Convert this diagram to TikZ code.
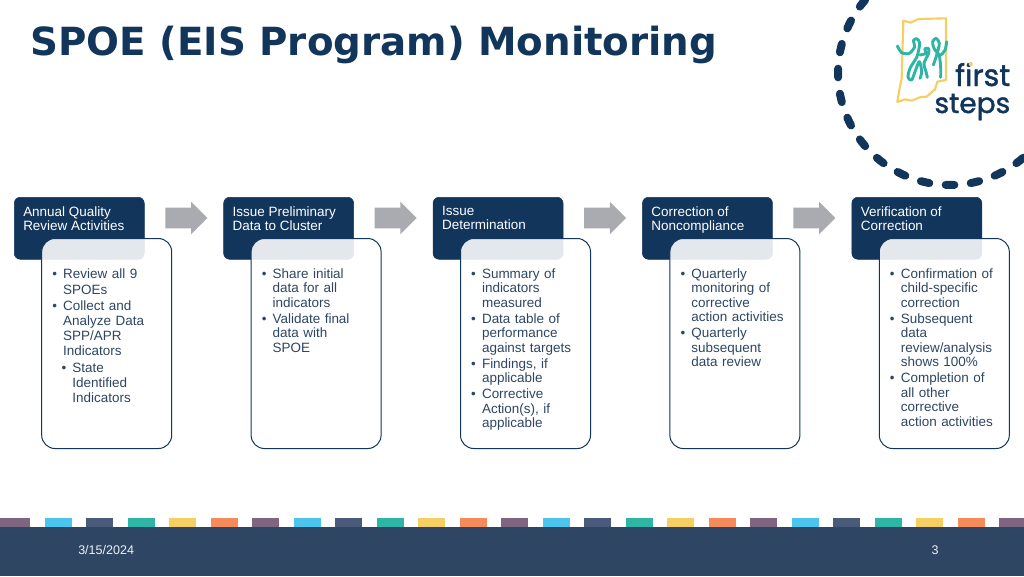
\documentclass[tikz,border=0pt]{standalone}
\usepackage{fontspec}
\usetikzlibrary{shapes.arrows}
\setmainfont{Liberation Sans}
\newfontfamily\titlefont{DejaVu Sans}
\newfontfamily\logofont[FakeBold=1.5]{Poppins}
\definecolor{navy}{HTML}{12355B}
\definecolor{slate}{HTML}{2E4663}
\definecolor{graybar}{HTML}{A9ABB0}
\definecolor{purplebar}{HTML}{7F6580}
\definecolor{bluebar}{HTML}{4CC4EE}
\definecolor{slatebar}{HTML}{4A5A7A}
\definecolor{tealbar}{HTML}{2FB5A5}
\definecolor{yellowbar}{HTML}{F5CF63}
\definecolor{orangebar}{HTML}{F58A5A}
% one bullet: indent of the text, then its lines
\newcommand{\bulitem}[2]{\par\leftskip=#1\relax\parskip=1.2pt\noindent\llap{\textbullet\hspace{4.6pt}}#2\par}
\tikzset{
  hdrbox/.style={draw=navy,fill=navy,rounded corners=4.5pt,minimum width=97.5pt,minimum height=46.5pt,inner sep=0pt,anchor=north west},
  hdrtext/.style={text=white,anchor=north west,inner sep=0pt,align=left,font=\fontsize{10.1}{10.5}\selectfont},
  bodybox/.style={draw=navy,line width=0.75pt,fill=white,fill opacity=0.89,rounded corners=10pt,minimum width=97.5pt,minimum height=157.5pt,inner sep=0pt,anchor=north west},
  bodytext/.style={text=slate,anchor=north west,inner sep=0pt,text width=96pt,align=left,font=\fontsize{10.1}{10.85}\selectfont},
  flowarrow/.style={single arrow,fill=graybar,inner sep=7.5pt,minimum height=31.5pt,minimum width=24pt,single arrow head extend=4.5pt,single arrow tip angle=90,anchor=west},
  logoline/.style={line width=2.2pt,line cap=round,line join=round},
  footertext/.style={text=white!92!slate,inner sep=0pt,font=\fontsize{9.4}{11}\selectfont}
}
\begin{document}
\begin{tikzpicture}[x=0.75pt,y=0.75pt]
    \useasboundingbox (0,0) rectangle (1024,-576);
    \clip (0,0) rectangle (1024,-576);
    \node [anchor=base west,inner sep=0pt,text=navy,font=\titlefont\bfseries\fontsize{29.07}{36}\selectfont] (title) at (30,-55.5) {SPOE (EIS Program) Monitoring};

    % dashed ring
    \foreach \k in {-3,...,10}
        \draw [navy,line width=6pt,line cap=round] ({950+112*cos(180+12.857*\k-2.2)},{-73+112*sin(180+12.857*\k-2.2)}) arc [start angle={180+12.857*\k-2.2},end angle={180+12.857*\k+2.2},radius=84pt];

    % logo
    \begin{scope}[shift={(820,0)},x=0.25pt,y=-0.25pt]
        \draw [logoline,yellowbar,line width=1.6pt] (250,62) -- (272,68) -- (295,57) -- (378,55) -- (378,240) -- (352,245) -- (345,268) -- (320,290) -- (300,292) -- (275,302) -- (255,298) -- (232,306) -- (238,270) -- (245,235) -- cycle;
        \draw [logoline,tealbar] plot [smooth] coordinates {(232,138) (245,158) (268,160) (284,140) (280,122) (290,116) (299,128) (296,150) (290,172) (270,205) (264,232) (275,240) (285,215) (298,185) (305,215) (300,235)};
        \draw [logoline,tealbar] plot [smooth] coordinates {(300,165) (318,160) (314,147) (325,145) (326,160) (312,190) (318,215) (322,232)};
        \draw [logoline,tealbar] plot [smooth] coordinates {(380,125) (375,150) (360,165) (342,145) (338,125) (348,115) (358,130) (350,165) (340,195)};
        \draw [logoline,tealbar] plot [smooth] coordinates {(358,165) (362,200) (362,232)};
    \end{scope}
    \node [anchor=base east,inner sep=0pt,text=navy,font=\logofont\fontsize{22.5}{25}\selectfont] (logofirst) at (1010.5,-86) {first};
    \node [anchor=base east,inner sep=0pt,text=navy,font=\logofont\fontsize{21}{25}\selectfont] (logosteps) at (1010.5,-113) {steps};
    \fill [yellowbar] (970.7,-64) circle (1.6pt);

    % process boxes
    \node [hdrbox] (hdr1) at (14,-197) {};
    \node [hdrbox] (hdr2) at (223.4,-197) {};
    \node [hdrbox] (hdr3) at (432.8,-197) {};
    \node [hdrbox] (hdr4) at (642.2,-197) {};
    \node [hdrbox] (hdr5) at (851.6,-197) {};
    \node [hdrtext] (hdrtext1) at (23,-206) {Annual Quality\\Review Activities};
    \node [hdrtext] (hdrtext2) at (232.4,-206) {Issue Preliminary\\Data to Cluster};
    \node [hdrtext] (hdrtext3) at (441.8,-206) {Issue\\Determination};
    \node [hdrtext] (hdrtext4) at (651.2,-206) {Correction of\\Noncompliance};
    \node [hdrtext] (hdrtext5) at (860.6,-206) {Verification of\\Correction};
    \node [bodybox] (body1) at (41.2,-238) {};
    \node [bodybox] (body2) at (250.6,-238) {};
    \node [bodybox] (body3) at (460,-238) {};
    \node [bodybox] (body4) at (669.4,-238) {};
    \node [bodybox] (body5) at (878.8,-238) {};
    \node [bodytext,font=\fontsize{10.1}{11.3}\selectfont] (bodytext1) at (41.5,-262) {%
        \bulitem{16.1pt}{Review all 9\\SPOEs}%
        \bulitem{16.1pt}{Collect and\\Analyze Data\\SPP/APR\\Indicators}%
        \bulitem{23pt}{State\\Identified\\Indicators}};
    \node [bodytext] (bodytext2) at (250.9,-262) {%
        \bulitem{16.1pt}{Share initial\\data for all\\indicators}%
        \bulitem{16.1pt}{Validate final\\data with\\SPOE}};
    \node [bodytext] (bodytext3) at (460.3,-262) {%
        \bulitem{16.1pt}{Summary of\\indicators\\measured}%
        \bulitem{16.1pt}{Data table of\\performance\\against targets}%
        \bulitem{16.1pt}{Findings, if\\applicable}%
        \bulitem{16.1pt}{Corrective\\Action(s), if\\applicable}};
    \node [bodytext] (bodytext4) at (669.7,-262) {%
        \bulitem{16.1pt}{Quarterly\\monitoring of\\corrective\\action activities}%
        \bulitem{16.1pt}{Quarterly\\subsequent\\data review}};
    \node [bodytext] (bodytext5) at (879.1,-262) {%
        \bulitem{16.1pt}{Confirmation of\\child-specific\\correction}%
        \bulitem{16.1pt}{Subsequent\\data\\review/analysis\\shows 100\%}%
        \bulitem{16.1pt}{Completion of\\all other\\corrective\\action activities}};
    \node [flowarrow] (arrow1) at (165,-218) {};
    \node [flowarrow] (arrow2) at (374.4,-218) {};
    \node [flowarrow] (arrow3) at (583.8,-218) {};
    \node [flowarrow] (arrow4) at (793.2,-218) {};

    % footer
    \foreach \k/\c in {0/purplebar,1/bluebar,2/slatebar,3/tealbar,4/yellowbar,5/orangebar,6/purplebar,7/bluebar,8/slatebar,9/tealbar,10/yellowbar,11/orangebar,12/purplebar,13/bluebar,14/slatebar,15/tealbar,16/yellowbar,17/orangebar,18/purplebar,19/bluebar,20/slatebar,21/tealbar,22/yellowbar,23/orangebar,24/purplebar}
        \fill [\c] ({3+41.5*\k},-518) rectangle ({30+41.5*\k},-527);
    \fill [purplebar] (0,-518) rectangle (3,-527);
    \fill [slate] (0,-527) rectangle (1024,-576);
    \node [footertext,anchor=west] (datetext) at (78,-550) {3/15/2024};
    \node [footertext] (pagetext) at (935,-550) {3};
\end{tikzpicture}
\end{document}
